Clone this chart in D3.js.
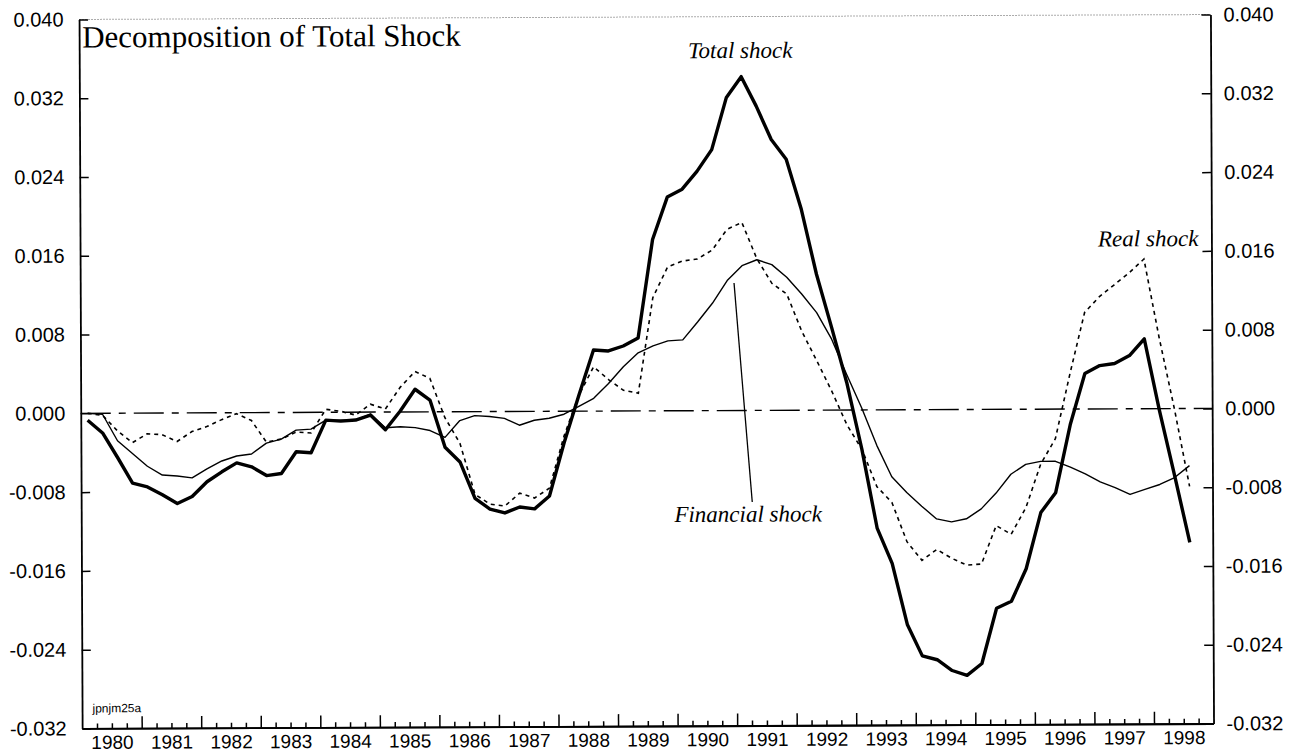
<!DOCTYPE html>
<html>
<head>
<meta charset="utf-8">
<script src="https://cdn.jsdelivr.net/npm/d3@7"></script>
<style>
    body { margin: 0; background: #fff; }
    svg { display: block; }
</style>
</head>
<body>
<div id="container"></div>
<script>
// quarterly values, 1980Q1 .. 1998Q3
const startYear = 1980;
const totalShock = [
    -0.0007, -0.0020, -0.0045, -0.0071, -0.0075, -0.0083, -0.0092, -0.0085,
    -0.0070, -0.0060, -0.0051, -0.0055, -0.0064, -0.0062, -0.0040, -0.0041,
    -0.0008, -0.0009, -0.0008, -0.0003, -0.0018, 0.0001, 0.0023, 0.0012,
    -0.0036, -0.0051, -0.0088, -0.0099, -0.0103, -0.0097, -0.0099, -0.0086,
    -0.0032, 0.0016, 0.0062, 0.0061, 0.0066, 0.0074, 0.0174, 0.0217,
    0.0225, 0.0243, 0.0265, 0.0318, 0.0339, 0.0309, 0.0275, 0.0255,
    0.0204, 0.0138, 0.0084, 0.0028, -0.0040, -0.0120, -0.0156, -0.0218,
    -0.0250, -0.0254, -0.0265, -0.0270, -0.0258, -0.0202, -0.0195, -0.0162,
    -0.0105, -0.0085, -0.0016, 0.0036, 0.0044, 0.0046, 0.0054, 0.0071,
    -0.0002, -0.0068, -0.0136
];
const financialShock = [
    0.0000, -0.0001, -0.0028, -0.0041, -0.0054, -0.0063, -0.0064, -0.0066,
    -0.0057, -0.0049, -0.0044, -0.0042, -0.0031, -0.0027, -0.0018, -0.0017,
    -0.0008, -0.0008, -0.0008, -0.0002, -0.0016, -0.0015, -0.0016, -0.0019,
    -0.0026, -0.0009, -0.0004, -0.0005, -0.0007, -0.0014, -0.0009, -0.0007,
    -0.0003, 0.0005, 0.0013, 0.0028, 0.0045, 0.0059, 0.0066, 0.0071,
    0.0072, 0.0090, 0.0109, 0.0132, 0.0147, 0.0153, 0.0148, 0.0135,
    0.0118, 0.0099, 0.0072, 0.0036, 0.0002, -0.0036, -0.0068, -0.0084,
    -0.0098, -0.0111, -0.0114, -0.0111, -0.0101, -0.0085, -0.0066, -0.0056,
    -0.0053, -0.0053, -0.0059, -0.0066, -0.0074, -0.0080, -0.0087, -0.0082,
    -0.0077, -0.0070, -0.0058
];
const realShock = [
    0.0000, -0.0002, -0.0018, -0.0030, -0.0021, -0.0022, -0.0029, -0.0019,
    -0.0014, -0.0007, -0.0001, -0.0008, -0.0030, -0.0027, -0.0020, -0.0021,
    0.0003, 0.0001, -0.0003, 0.0008, 0.0003, 0.0025, 0.0041, 0.0034,
    -0.0006, -0.0032, -0.0084, -0.0094, -0.0096, -0.0083, -0.0088, -0.0078,
    -0.0025, 0.0016, 0.0045, 0.0032, 0.0021, 0.0018, 0.0115, 0.0146,
    0.0152, 0.0154, 0.0163, 0.0184, 0.0191, 0.0154, 0.0129, 0.0118,
    0.0080, 0.0050, 0.0019, -0.0015, -0.0040, -0.0078, -0.0094, -0.0134,
    -0.0153, -0.0142, -0.0151, -0.0158, -0.0157, -0.0118, -0.0127, -0.0100,
    -0.0056, -0.0030, 0.0036, 0.0098, 0.0114, 0.0126, 0.0138, 0.0152,
    0.0072, 0.0000, -0.0079
];
const yTicks = [-0.032, -0.024, -0.016, -0.008, 0, 0.008, 0.016, 0.024, 0.032, 0.040];
const yearLabels = d3.range(1980, 1999);

const W = 1301;
const H = 752;
const plot = {left: 80.6, right: 1212, top: 17, bottom: 726};
const SANS = '"Liberation Sans", Arial, sans-serif';
const SERIF = '"Liberation Serif", "Times New Roman", serif';

const svg = d3.select('#container')
    .append('svg')
    .attr('width', W)
    .attr('height', H);

// the scan is tilted a little, so the whole drawing is turned with it
const g = svg.append('g')
    .attr('transform', 'rotate(-0.25, 646, 374)');

const x = d3.scaleLinear().domain([1980, 1999]).range([plot.left, plot.right]);
const y = d3.scaleLinear().domain([-0.032, 0.040]).range([plot.bottom, plot.top]);
const fmt = d => d.toFixed(3);
// observation i sits a bit past the start of its quarter
const tOf = i => startYear + i / 4 + 0.115;

// top border, faint
g.append('line')
    .attr('x1', plot.left).attr('x2', plot.right)
    .attr('y1', plot.top).attr('y2', plot.top)
    .attr('stroke', '#aaa')
    .attr('stroke-width', 1)
    .attr('stroke-dasharray', '2,1');

// left and right axes
const leftAxis = g.append('g')
    .attr('transform', `translate(${plot.left},0)`)
    .call(d3.axisLeft(y).tickValues(yTicks).tickSize(-9).tickSizeOuter(0)
        .tickPadding(15.5).tickFormat(fmt));
const rightAxis = g.append('g')
    .attr('transform', `translate(${plot.right},0)`)
    .call(d3.axisRight(y).tickValues(yTicks).tickSize(-9).tickSizeOuter(0)
        .tickPadding(13).tickFormat(fmt));

// bottom axis: quarter ticks, year ticks, year labels
const quarters = d3.range(1980, 1999, 0.25).filter(d => d % 1 !== 0);
const bottomMinor = g.append('g')
    .attr('transform', `translate(0,${plot.bottom})`)
    .call(d3.axisBottom(x).tickValues(quarters).tickSize(-5).tickSizeOuter(0).tickFormat(''));
const bottomMajor = g.append('g')
    .attr('transform', `translate(0,${plot.bottom})`)
    .call(d3.axisBottom(x).tickValues(d3.range(1981, 1999)).tickSize(-12).tickSizeOuter(0).tickFormat(''));
const bottomLabels = g.append('g')
    .attr('transform', `translate(0,${plot.bottom})`)
    .call(d3.axisBottom(x).tickValues(yearLabels.map(d => d + 0.5)).tickSize(0).tickSizeOuter(0)
        .tickPadding(7).tickFormat(d => String(Math.floor(d))));
bottomLabels.select('.domain').remove();
bottomLabels.selectAll('.tick line').remove();

[leftAxis, rightAxis, bottomMinor, bottomMajor, bottomLabels].forEach(a => {
    a.selectAll('.domain').attr('stroke', '#000').attr('stroke-width', 1.8);
    a.selectAll('.tick line').attr('stroke', '#000').attr('stroke-width', 1.5);
    a.selectAll('text')
        .attr('font-family', SANS)
        .attr('font-size', 19)
        .attr('fill', '#000');
});
leftAxis.selectAll('text').attr('font-size', 20);
rightAxis.selectAll('text').attr('font-size', 20);

// zero reference line
g.append('line')
    .attr('x1', plot.left).attr('x2', plot.right)
    .attr('y1', y(0)).attr('y2', y(0))
    .attr('stroke', '#000')
    .attr('stroke-width', 1.4)
    .attr('stroke-dasharray', '30,8,7,8');

const line = d3.line()
    .x((d, i) => x(tOf(i)))
    .y(d => y(d));

g.append('path')
    .datum(realShock)
    .attr('fill', 'none')
    .attr('stroke', '#000')
    .attr('stroke-width', 1.6)
    .attr('stroke-dasharray', '4,4')
    .attr('d', line);
g.append('path')
    .datum(financialShock)
    .attr('fill', 'none')
    .attr('stroke', '#000')
    .attr('stroke-width', 1.4)
    .attr('stroke-linejoin', 'round')
    .attr('d', line);
g.append('path')
    .datum(totalShock)
    .attr('fill', 'none')
    .attr('stroke', '#000')
    .attr('stroke-width', 3.4)
    .attr('stroke-linejoin', 'round')
    .attr('d', line);

// title and labels
g.append('text')
    .attr('x', plot.left + 3)
    .attr('y', 45)
    .attr('font-family', SERIF)
    .attr('font-size', 31)
    .text('Decomposition of Total Shock');

const note = (t, v, txt, anchor) => g.append('text')
    .attr('x', x(t))
    .attr('y', y(v))
    .attr('text-anchor', anchor)
    .attr('font-family', SERIF)
    .attr('font-style', 'italic')
    .attr('font-size', 23)
    .text(txt);
note(1991.1, 0.0358, 'Total shock', 'middle');
note(1998.78, 0.0165, 'Real shock', 'end');
note(1991.2, -0.0113, 'Financial shock', 'middle');

// pointer from the financial label up to its curve
g.append('line')
    .attr('x1', x(1990.98)).attr('y1', y(0.01295))
    .attr('x2', x(1991.27)).attr('y2', y(-0.0093))
    .attr('stroke', '#000')
    .attr('stroke-width', 1.3);

g.append('text')
    .attr('x', 91)
    .attr('y', 710)
    .attr('font-family', SANS)
    .attr('font-size', 12)
    .text('jpnjm25a');
</script>
</body>
</html>
